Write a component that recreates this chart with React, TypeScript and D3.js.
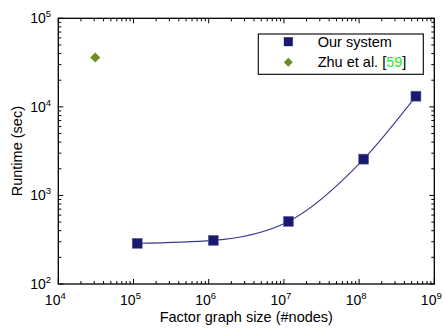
import React from "react";
import * as d3 from "d3";

const oursX = [1.12e5, 1.15e6, 1.15e7, 1.15e8, 5.7e8];
const oursY = [288, 311, 509, 2570, 13200];
const zhuX = [3.1e4];
const zhuY = [3.6e4];
const xDecades = [4, 5, 6, 7, 8, 9];
const yDecades = [2, 3, 4, 5];
const legendLabels = ["Our system", "Zhu et al. ["];

const W = 445, H = 328;
const L = 58.3, R = 434.3, T = 18.3, B = 284;
const navy = "#191970";
const lineCol = "#3a3a8c";
const olive = "#6b8e23";
const FONT = "'Liberation Sans', Arial, Helvetica, sans-serif";

export default function App() {
  const x = d3.scaleLog().domain([1e4, 1e9]).range([L, R]);
  const y = d3.scaleLog().domain([1e2, 1e5]).range([B, T]);

  const pts: [number, number][] = oursX.map((v, i) => [x(v), y(oursY[i])]);
  const line = d3.line().curve(d3.curveMonotoneX)(pts) || "";

  const xMinor: number[] = [];
  for (let d = 4; d < 9; d++) for (let m = 2; m <= 9; m++) xMinor.push(m * Math.pow(10, d));
  const yMinor: number[] = [];
  for (let d = 2; d < 5; d++) for (let m = 2; m <= 9; m++) yMinor.push(m * Math.pow(10, d));

  const MAJ = 5, MIN = 3;
  const ticks: JSX.Element[] = [];
  xDecades.forEach((d, i) => {
    const px = x(Math.pow(10, d));
    ticks.push(<line key={"xb" + i} x1={px} x2={px} y1={B} y2={B - MAJ} />);
    ticks.push(<line key={"xt" + i} x1={px} x2={px} y1={T} y2={T + MAJ} />);
  });
  xMinor.forEach((v, i) => {
    const px = x(v);
    ticks.push(<line key={"xmb" + i} x1={px} x2={px} y1={B} y2={B - MIN} />);
    ticks.push(<line key={"xmt" + i} x1={px} x2={px} y1={T} y2={T + MIN} />);
  });
  yDecades.forEach((d, i) => {
    const py = y(Math.pow(10, d));
    ticks.push(<line key={"yl" + i} x1={L} x2={L + MAJ} y1={py} y2={py} />);
    ticks.push(<line key={"yr" + i} x1={R} x2={R - MAJ} y1={py} y2={py} />);
  });
  yMinor.forEach((v, i) => {
    const py = y(v);
    ticks.push(<line key={"yml" + i} x1={L} x2={L + MIN} y1={py} y2={py} />);
    ticks.push(<line key={"ymr" + i} x1={R} x2={R - MIN} y1={py} y2={py} />);
  });

  const sq = 10;
  const dia = 5;

  return (
    <svg width={W} height={H} style={{ position: "absolute", left: 0, top: 0, background: "#fff" }} fontFamily={FONT}>
      <rect x={0} y={0} width={W} height={H} fill="#fff" />
      <path d={line} fill="none" stroke={lineCol} strokeWidth={1.1} />
      {pts.map((p, i) => (
        <rect key={i} x={p[0] - sq / 2} y={p[1] - sq / 2} width={sq} height={sq} fill={navy} stroke="#6a6aa8" strokeWidth={0.6} />
      ))}
      {zhuX.map((v, i) => {
        const cx = x(v), cy = y(zhuY[i]);
        return <path key={i} d={`M${cx},${cy - dia}L${cx + dia},${cy}L${cx},${cy + dia}L${cx - dia},${cy}Z`} fill={olive} />;
      })}
      <g stroke="#000" strokeWidth={1}>{ticks}</g>
      <rect x={L} y={T} width={R - L} height={B - T} fill="none" stroke="#000" strokeWidth={1.3} />
      {xDecades.map((d, i) => (
        <text key={"xl" + i} x={x(Math.pow(10, d)) - 3} y={305} textAnchor="middle" fontSize={14} fill="#000">
          10<tspan fontSize={9.5} dy={-6}>{d}</tspan>
        </text>
      ))}
      {yDecades.map((d, i) => (
        <text key={"yl" + i} x={51} y={y(Math.pow(10, d)) + 5} textAnchor="end" fontSize={14} fill="#000">
          10<tspan fontSize={9.5} dy={-6}>{d}</tspan>
        </text>
      ))}
      <text x={(L + R) / 2} y={322} textAnchor="middle" fontSize={14.5} fill="#000">Factor graph size (#nodes)</text>
      <text transform={`translate(22,${(T + B) / 2}) rotate(-90)`} textAnchor="middle" fontSize={14.5} fill="#000">Runtime (sec)</text>
      <g>
        <rect x={258.3} y={34} width={165} height={40.3} fill="#fff" stroke="#000" strokeWidth={1.1} />
        <rect x={288.3 - 4.5} y={41.7 - 4.5} width={9} height={9} fill={navy} />
        <path d={`M288.3,${62.3 - 4.5}L${288.3 + 4.5},62.3L288.3,${62.3 + 4.5}L${288.3 - 4.5},62.3Z`} fill={olive} />
        <text x={317.7} y={46.8} fontSize={14.5} fill="#000">{legendLabels[0]}</text>
        <text x={317.7} y={67.4} fontSize={14.5} fill="#000">
          {legendLabels[1]}<tspan fill="#22ee22">59</tspan>]
        </text>
      </g>
    </svg>
  );
}
